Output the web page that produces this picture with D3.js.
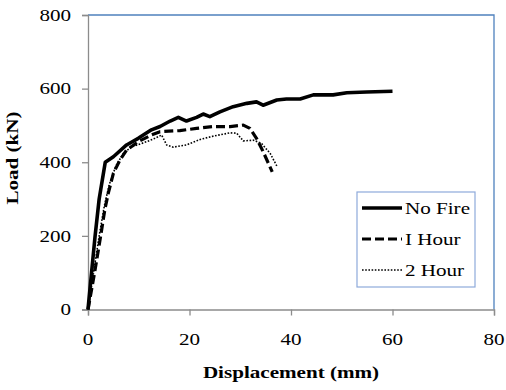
<!DOCTYPE html>
<html>
<head>
<meta charset="utf-8">
<script src="https://cdn.jsdelivr.net/npm/d3@7"></script>
<style>
  body { margin: 0; background: #fff; }
  text { font-family: "Liberation Serif", "Times New Roman", serif; fill: #000; }
</style>
</head>
<body>
<div id="chart"></div>
<script>
// displacement (mm) / load (kN)
const noFireX = [0, 0.7, 1.4, 2.2, 3.4, 5.0, 7.6, 9.9, 12.5, 14.2, 16.2, 17.8, 19.4, 21.4, 22.7, 24.0, 26.0, 28.6, 31.3, 33.2, 34.5, 37.2, 39.1, 41.8, 44.4, 48.3, 51.0, 54.9, 60.0];
const noFireY = [0, 100, 200, 300, 400, 415, 447, 465, 488, 497, 512, 522, 512, 522, 531, 524, 537, 551, 560, 564, 555, 569, 572, 572, 583, 583, 589, 591, 593];

const oneHourX = [0, 1.3, 2.5, 3.3, 4.0, 5.0, 6.3, 7.6, 9.9, 12.5, 14.2, 18.1, 21.4, 24.7, 28.0, 30.6, 31.9, 33.2, 34.5, 36.3];
const oneHourY = [0, 100, 200, 270, 316, 370, 406, 433, 456, 474, 483, 486, 492, 497, 497, 501, 492, 465, 429, 374];

const twoHourX = [0, 1.1, 2.2, 3.2, 4.2, 5.5, 7.0, 8.6, 11.6, 13.2, 14.5, 15.5, 16.8, 19.4, 22.1, 24.7, 28.0, 29.3, 30.6, 32.6, 34.2, 35.9, 37.2];
const twoHourY = [0, 100, 200, 280, 340, 390, 425, 442, 456, 465, 474, 447, 441, 447, 462, 471, 480, 479, 458, 460, 451, 424, 390];

const seriesNames = ["No Fire", "I Hour", "2 Hour"];
const xTicks = [0, 20, 40, 60, 80];
const yTicks = [0, 200, 400, 600, 800];

const width = 506, height = 390;
const margin = { top: 15, right: 12, bottom: 80.5, left: 88 };
const innerWidth = width - margin.left - margin.right;
const innerHeight = height - margin.top - margin.bottom;
const stretch = 1.24; // the original font is drawn wider than Times

const svg = d3.select("#chart").append("svg")
  .attr("width", width)
  .attr("height", height);

const g = svg.append("g")
  .attr("transform", `translate(${margin.left},${margin.top})`);

const x = d3.scaleLinear().domain([0, 80]).range([0, innerWidth]);
const y = d3.scaleLinear().domain([0, 800]).range([innerHeight, 0]);

// widen glyphs in place instead of scaling the element
function widen(sel) {
  sel.each(function () {
    const w = this.getComputedTextLength();
    d3.select(this)
      .attr("textLength", w * stretch)
      .attr("lengthAdjust", "spacingAndGlyphs");
  });
}

// plot frame (top + right in blue)
g.append("path")
  .attr("d", `M0,0H${innerWidth}V${innerHeight}`)
  .attr("fill", "none")
  .attr("stroke", "#4f81bd")
  .attr("stroke-width", 1.3);

// axes: lines and ticks from d3, labels drawn below
const xAxis = g.append("g")
  .attr("transform", `translate(0,${innerHeight})`)
  .call(d3.axisBottom(x).tickValues(xTicks).tickSize(6).tickFormat(""));
const yAxis = g.append("g")
  .call(d3.axisLeft(y).tickValues(yTicks).tickSize(6).tickFormat(""));

[xAxis, yAxis].forEach((ax) => {
  ax.select(".domain").attr("stroke", "#8c8c8c").attr("stroke-width", 1.3);
  ax.selectAll(".tick line").attr("stroke", "#8c8c8c").attr("stroke-width", 1.3);
  ax.selectAll(".tick text").remove();
});

g.append("g").selectAll("text")
  .data(xTicks)
  .join("text")
  .attr("x", (d) => x(d))
  .attr("y", innerHeight + 35)
  .attr("text-anchor", "middle")
  .attr("font-size", "17px")
  .text((d) => d)
  .call(widen);

g.append("g").selectAll("text")
  .data(yTicks)
  .join("text")
  .attr("x", -17)
  .attr("y", (d) => y(d))
  .attr("dy", "0.34em")
  .attr("text-anchor", "end")
  .attr("font-size", "17px")
  .text((d) => d)
  .call(widen);

// lines
const series = [
  { name: seriesNames[0], xs: noFireX, ys: noFireY, width: 3.6, dash: null },
  { name: seriesNames[1], xs: oneHourX, ys: oneHourY, width: 3.2, dash: "9,4" },
  { name: seriesNames[2], xs: twoHourX, ys: twoHourY, width: 1.6, dash: "1.6,1.6" }
];

const line = d3.line().x((d) => x(d[0])).y((d) => y(d[1]));

g.selectAll(".series")
  .data(series.slice().reverse())
  .join("path")
  .attr("class", "series")
  .attr("d", (s) => line(s.xs.map((v, i) => [v, s.ys[i]])))
  .attr("fill", "none")
  .attr("stroke", "#000")
  .attr("stroke-width", (s) => s.width)
  .attr("stroke-dasharray", (s) => s.dash)
  .attr("stroke-linejoin", "round");

// legend
const legend = svg.append("g").attr("transform", "translate(357,192)");
legend.append("rect")
  .attr("width", 118)
  .attr("height", 95)
  .attr("fill", "#fff")
  .attr("stroke", "#8eaadb")
  .attr("stroke-width", 1.2);

const rows = legend.selectAll(".row")
  .data(series)
  .join("g")
  .attr("class", "row")
  .attr("transform", (d, i) => `translate(0,${16 + i * 31})`);

rows.append("line")
  .attr("x1", 5).attr("x2", 45)
  .attr("stroke", "#000")
  .attr("stroke-width", (d) => d.width)
  .attr("stroke-dasharray", (d) => d.dash);

rows.append("text")
  .attr("x", 48)
  .attr("dy", "0.34em")
  .attr("font-size", "17px")
  .text((d) => d.name)
  .call(widen);

// axis titles
svg.append("text")
  .attr("x", margin.left + innerWidth / 2)
  .attr("y", 378)
  .attr("text-anchor", "middle")
  .attr("font-size", "17px")
  .attr("font-weight", "bold")
  .text("Displacement (mm)")
  .call(widen);

svg.append("text")
  .attr("transform", "translate(18,158) rotate(-90)")
  .attr("text-anchor", "middle")
  .attr("font-size", "17px")
  .attr("font-weight", "bold")
  .text("Load (kN)")
  .call(widen);
</script>
</body>
</html>
